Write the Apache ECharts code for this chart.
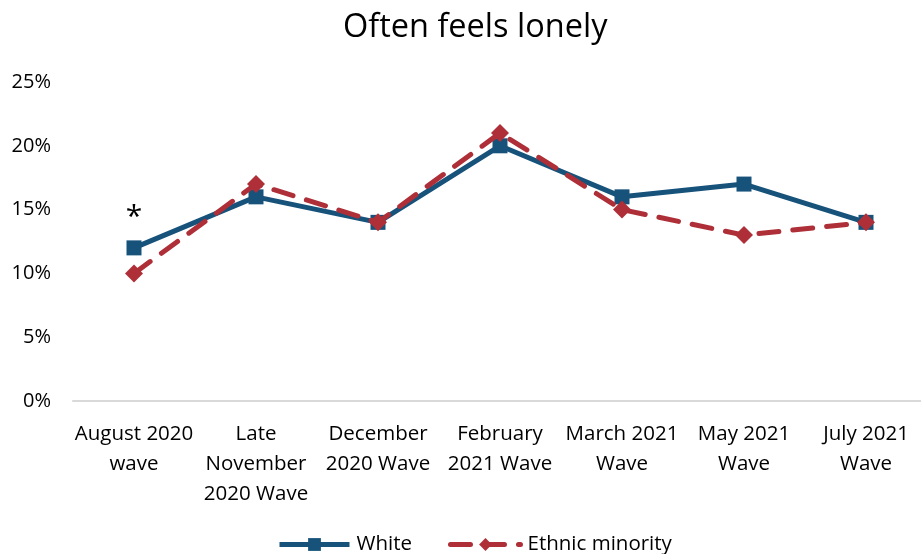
<!DOCTYPE html>
<html><head><meta charset="utf-8">
<script src="https://cdn.jsdelivr.net/npm/echarts@6/dist/echarts.min.js"></script>
<style>html,body{margin:0;padding:0;background:#fff}#c{width:921px;height:554px}</style>
</head><body><div id="c"></div>
<script>
const categories = ["August 2020\nwave", "Late\nNovember\n2020 Wave", "December\n2020 Wave", "February\n2021 Wave", "March 2021\nWave", "May 2021\nWave", "July 2021\nWave"];
const white = [12, 16, 14, 20, 16, 17, 14];
const ethnicMinority = [10, 17, 14, 21, 15, 13, 14];
const yTicks = [0, 5, 10, 15, 20, 25];

const FONT = '"Open Sans", Lato, sans-serif';
const BLUE = '#17527B';
const RED = '#AE2F38';
const chart = echarts.init(document.getElementById('c'));
chart.setOption({
  animation: false,
  textStyle: {fontFamily: FONT},
  title: {text: 'Often feels lonely', left: 338, top: 6, textStyle: {fontFamily: FONT, fontSize: 32.5, fontWeight: 'normal', color: '#000'}},
  grid: {left: 73, width: 854, top: 82, height: 319, outerBoundsMode: 'none', containLabel: false},
  legend: {bottom: -6, left: 272, itemWidth: 70, itemHeight: 16, itemGap: 36,
    textStyle: {fontSize: 20.5, color: '#000', fontFamily: FONT, padding: [0, 0, 0, 2]},
    data: [
      {name: 'White', lineStyle: {width: 5}},
      {name: 'Ethnic minority', lineStyle: {width: 5}}
    ]},
  xAxis: {type: 'category', data: categories, boundaryGap: true,
    axisLine: {lineStyle: {color: '#D9D9D9', width: 2}}, axisTick: {show: false},
    axisLabel: {color: '#000', fontSize: 20.5, lineHeight: 30, margin: 18, interval: 0, fontFamily: FONT}},
  yAxis: {type: 'value', min: yTicks[0], max: yTicks[yTicks.length-1], interval: 5,
    axisLine: {show: false}, axisTick: {show: false}, splitLine: {show: false},
    axisLabel: {formatter: '{value}%', color: '#000', fontSize: 20, margin: 22, fontFamily: FONT}},
  series: [
    {name: 'White', type: 'line', data: white.map((v, i) => i === 0 ? {value: v, label: {show: true, formatter: '*', position: 'top', distance: 8, fontSize: 30, color: '#000'}} : v),
     symbol: 'rect', symbolSize: 15, lineStyle: {color: BLUE, width: 5}, itemStyle: {color: BLUE}, z: 2},
    {name: 'Ethnic minority', type: 'line', data: ethnicMinority,
     symbol: 'diamond', symbolSize: 18, lineStyle: {color: RED, width: 5, type: [20, 14], cap: 'round'}, itemStyle: {color: RED}, z: 3}
  ]
});
</script></body></html>
